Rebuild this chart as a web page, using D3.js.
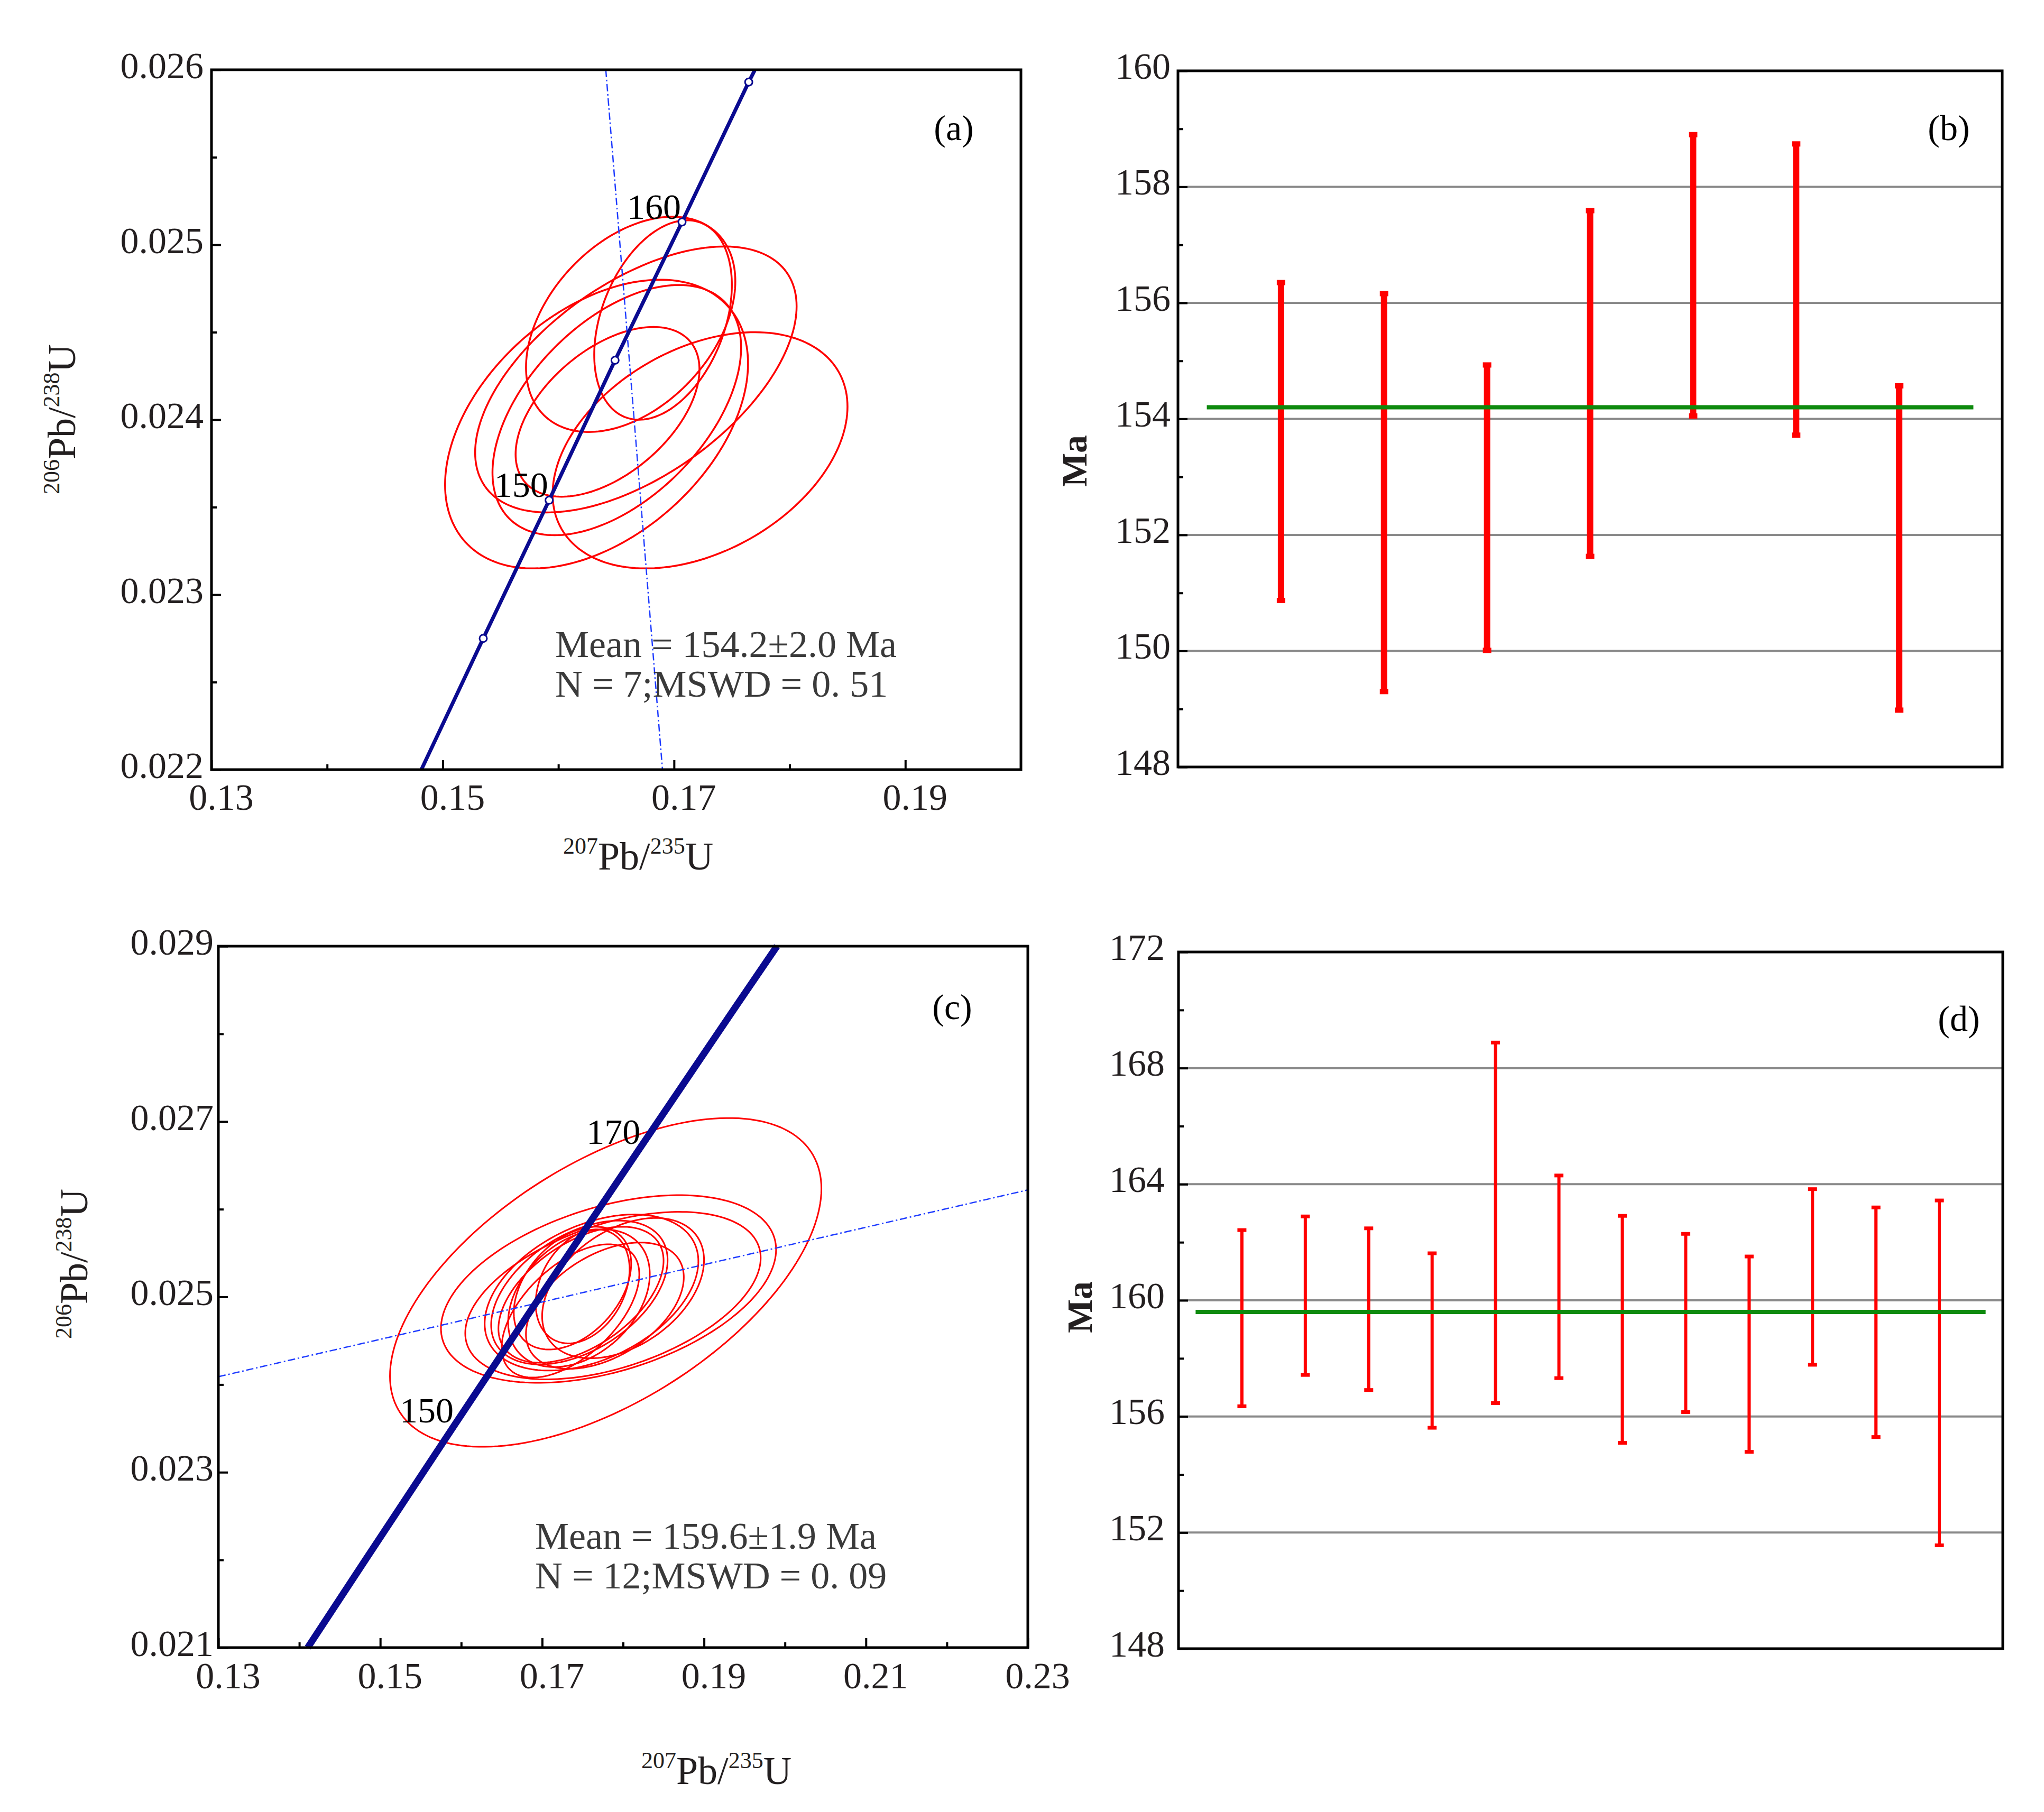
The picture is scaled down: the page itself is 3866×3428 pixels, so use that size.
<!DOCTYPE html>
<html>
<head>
<meta charset="utf-8">
<script src="https://cdn.jsdelivr.net/npm/d3@7"></script>
<style>
  body { margin: 0; background: #fff; }
  text { font-family: "Liberation Serif", "DejaVu Serif", serif; }
</style>
</head>
<body>
<script>
// U-Pb concordia diagrams (a, c) and weighted mean age plots (b, d)

// ---- panel (a) data ----
const concordiaA = [[0.14815, 0.02200], [0.15350, 0.02275], [0.15920, 0.02354], [0.16490, 0.02434],
                    [0.17069, 0.02513], [0.17646, 0.02593], [0.17700, 0.02600]];
const ageMarksA = [[0.15350, 0.02275], [0.15920, 0.02354], [0.16490, 0.02434], [0.17069, 0.02513], [0.17646, 0.02593]];
const ageLabelsA = [{ t: '150', x: 0.15920, y: 0.02354 }, { t: '160', x: 0.17069, y: 0.02513 }];
const discordiaA = [[0.1641, 0.0260], [0.1690, 0.0220]];
// ellipses: [xmin, xmax, ymin, ymax, correlation]
const ellipsesA = [
  [0.1502, 0.1764, 0.02315, 0.02480, 0.42],
  [0.1595, 0.1850, 0.02315, 0.02450, 0.37],
  [0.1572, 0.1753, 0.02393, 0.02516, 0.40],
  [0.1631, 0.1750, 0.02400, 0.02514, 0.35],
  [0.1528, 0.1806, 0.02347, 0.02499, 0.55],
  [0.1543, 0.1758, 0.02334, 0.02477, 0.50],
  [0.1563, 0.1722, 0.02356, 0.02453, 0.50]
];

// ---- panel (c) data ----
const concordiaC = [[0.14104, 0.02100], [0.14784, 0.021955], [0.15920, 0.023542], [0.17069, 0.025134],
                    [0.18227, 0.026722], [0.19396, 0.028316], [0.19901, 0.02900]];
const ageLabelsC = [{ t: '150', x: 0.15920, y: 0.023542 }, { t: '170', x: 0.18227, y: 0.026722 }];
const discordiaC = [[0.13, 0.02409], [0.23, 0.02622]];
const ellipsesC = [
  [0.1512, 0.2045, 0.02329, 0.02704, 0.57],
  [0.1575, 0.1989, 0.02402, 0.02616, 0.42],
  [0.1605, 0.1970, 0.02406, 0.02597, 0.45],
  [0.1629, 0.1893, 0.02416, 0.02594, 0.40],
  [0.1637, 0.1855, 0.02423, 0.02587, 0.45],
  [0.1646, 0.1850, 0.02425, 0.02580, 0.50],
  [0.1658, 0.1833, 0.02420, 0.02577, 0.35],
  [0.1665, 0.1810, 0.02440, 0.02580, 0.40],
  [0.1692, 0.1808, 0.02447, 0.02577, 0.30],
  [0.1680, 0.1875, 0.02418, 0.02562, 0.45],
  [0.1650, 0.1820, 0.02408, 0.02560, 0.55],
  [0.1700, 0.1900, 0.02430, 0.02590, 0.40]
];

// ---- panel (b) data ----
const lowB  = [150.87, 149.30, 150.01, 151.63, 154.05, 153.72, 148.98];
const highB = [156.35, 156.16, 154.93, 157.59, 158.90, 158.74, 154.57];
const meanB = 154.2;
const meanSpanB = [0.28, 7.72];

// ---- panel (d) data ----
const lowD  = [156.35, 157.43, 156.91, 155.61, 156.46, 157.32, 155.09, 156.15, 154.78, 157.78, 155.29, 151.56];
const highD = [162.42, 162.89, 162.48, 161.62, 168.88, 164.30, 162.91, 162.29, 161.51, 163.83, 163.20, 163.44];
const meanD = 159.6;
const meanSpanD = [0.27, 12.73];

const W = 3866, H = 3428;
const svg = d3.select('body').append('svg').attr('width', W).attr('height', H);
const TXT = '#231f20';

function ellipsePoints(e) {
  const [x0, x1, y0, y1, r] = e;
  const cx = (x0 + x1) / 2, sx = (x1 - x0) / 2, cy = (y0 + y1) / 2, sy = (y1 - y0) / 2;
  const q = Math.sqrt(1 - r * r);
  return d3.range(0, 2 * Math.PI, Math.PI / 90).map(t =>
    [cx + sx * Math.cos(t), cy + sy * (r * Math.cos(t) + q * Math.sin(t))]);
}

function styleAxis(g, fs) {
  g.select('.domain').remove();
  g.selectAll('line').attr('stroke', '#000').attr('stroke-width', 4);
  g.selectAll('text').attr('font-size', fs).attr('fill', TXT)
    .attr('font-family', '"Liberation Serif", serif');
}

function isoTitle(g, x, y, sup1, sup2, rotate) {
  const t = g.append('text').attr('text-anchor', 'middle').attr('fill', TXT)
    .attr('transform', `translate(${x},${y})` + (rotate ? ' rotate(-90)' : ''));
  t.append('tspan').attr('font-size', 44).attr('dy', -30).text(sup1);
  t.append('tspan').attr('font-size', 74).attr('dy', 30).text('Pb/');
  t.append('tspan').attr('font-size', 44).attr('dy', -30).text(sup2);
  t.append('tspan').attr('font-size', 74).attr('dy', 30).text('U');
}

function concordiaPanel(o) {
  const x = d3.scaleLinear().domain(o.xdom).range([o.x0, o.x1]);
  const y = d3.scaleLinear().domain(o.ydom).range([o.y1, o.y0]);
  const g = svg.append('g');
  const line = d3.line().x(d => x(d[0])).y(d => y(d[1]));

  // ellipses
  g.selectAll('path.ell').data(o.ellipses).join('path')
    .attr('d', e => line.curve(d3.curveLinearClosed)(ellipsePoints(e)))
    .attr('fill', 'none').attr('stroke', '#ff0000').attr('stroke-width', o.ellW);
  line.curve(d3.curveLinear);

  // discordia
  g.append('path').attr('d', line(o.discordia)).attr('fill', 'none')
    .attr('stroke', '#1f3cff').attr('stroke-width', 2.5).attr('stroke-dasharray', '14,5,3,5');

  // concordia
  g.append('path').attr('d', line(o.concordia)).attr('fill', 'none')
    .attr('stroke', '#0a0a90').attr('stroke-width', o.concW);
  if (o.marks) {
    g.selectAll('circle.m').data(o.marks).join('circle')
      .attr('cx', d => x(d[0])).attr('cy', d => y(d[1])).attr('r', 7)
      .attr('fill', '#fff').attr('stroke', '#0a0a90').attr('stroke-width', 3);
  }
  g.selectAll('text.age').data(o.ageLabels).join('text')
    .attr('x', d => x(d.x) - 2).attr('y', d => y(d.y) + o.ageDy)
    .attr('text-anchor', 'end').attr('font-size', 68).attr('fill', '#000').text(d => d.t);

  // axes with inward ticks
  const ax = g.append('g').attr('transform', `translate(0,${o.y1})`)
    .call(d3.axisBottom(x).tickValues(o.xMajor).tickSize(-18).tickPadding(o.xPad).tickFormat(d3.format('.2f')));
  styleAxis(ax, 70);
  ax.selectAll('text').attr('dx', 18);
  const axm = g.append('g').attr('transform', `translate(0,${o.y1})`)
    .call(d3.axisBottom(x).tickValues(o.xMinor).tickSize(-10).tickFormat(''));
  styleAxis(axm, 70);
  const ay = g.append('g').attr('transform', `translate(${o.x0},0)`)
    .call(d3.axisLeft(y).tickValues(o.yMajor).tickSize(-18).tickPadding(o.yPad).tickFormat(d3.format('.3f')));
  styleAxis(ay, 70);
  ay.selectAll('text').attr('dy', '0.22em');
  const aym = g.append('g').attr('transform', `translate(${o.x0},0)`)
    .call(d3.axisLeft(y).tickValues(o.yMinor).tickSize(-10).tickFormat(''));
  styleAxis(aym, 70);

  g.append('rect').attr('x', o.x0).attr('y', o.y0).attr('width', o.x1 - o.x0).attr('height', o.y1 - o.y0)
    .attr('fill', 'none').attr('stroke', '#000').attr('stroke-width', 5);

  g.append('text').attr('x', o.tag[0]).attr('y', o.tag[1]).attr('text-anchor', 'middle')
    .attr('font-size', 68).attr('fill', '#000').text(o.tagText);

  const m = g.append('text').attr('font-size', 72).attr('fill', '#3a3a3a');
  m.append('tspan').attr('x', o.meanXY[0]).attr('y', o.meanXY[1]).text(o.meanText[0]);
  m.append('tspan').attr('x', o.meanXY[0]).attr('dy', 75).text(o.meanText[1]);

  isoTitle(g, o.xTitle[0], o.xTitle[1], '207', '235', false);
  isoTitle(g, o.yTitle[0], o.yTitle[1], '206', '238', true);
}

function agePanel(o) {
  const x = d3.scaleLinear().domain([0, o.low.length + 1]).range([o.x0, o.x1]);
  const y = d3.scaleLinear().domain(o.ydom).range([o.y1, o.y0]);
  const g = svg.append('g');

  g.selectAll('line.grid').data(o.grid).join('line')
    .attr('x1', o.x0).attr('x2', o.x1).attr('y1', d => y(d)).attr('y2', d => y(d))
    .attr('stroke', '#8a8a8a').attr('stroke-width', 4);

  const idx = d3.range(o.low.length);
  g.selectAll('line.bar').data(idx).join('line')
    .attr('x1', i => x(i + 1)).attr('x2', i => x(i + 1))
    .attr('y1', i => y(o.low[i])).attr('y2', i => y(o.high[i]))
    .attr('stroke', '#ff0000').attr('stroke-width', o.barW);
  const caps = idx.flatMap(i => [[i + 1, o.low[i]], [i + 1, o.high[i]]]);
  g.selectAll('rect.cap').data(caps).join('rect')
    .attr('x', d => x(d[0]) - o.capW / 2).attr('y', d => y(d[1]) - o.capH / 2)
    .attr('width', o.capW).attr('height', o.capH).attr('fill', '#ff0000');

  g.append('line').attr('x1', x(o.span[0])).attr('x2', x(o.span[1]))
    .attr('y1', y(o.mean)).attr('y2', y(o.mean))
    .attr('stroke', '#0e8a0e').attr('stroke-width', 8);

  const ay = g.append('g').attr('transform', `translate(${o.x0},0)`)
    .call(d3.axisLeft(y).tickValues(o.yMajor).tickSize(-18).tickPadding(o.yPad).tickFormat(d3.format('d')));
  styleAxis(ay, 70);
  ay.selectAll('text').attr('dy', '0.2em');
  const aym = g.append('g').attr('transform', `translate(${o.x0},0)`)
    .call(d3.axisLeft(y).tickValues(o.yMinor).tickSize(-10).tickFormat(''));
  styleAxis(aym, 70);

  g.append('rect').attr('x', o.x0).attr('y', o.y0).attr('width', o.x1 - o.x0).attr('height', o.y1 - o.y0)
    .attr('fill', 'none').attr('stroke', '#000').attr('stroke-width', 5);

  g.append('text').attr('x', o.tag[0]).attr('y', o.tag[1]).attr('text-anchor', 'middle')
    .attr('font-size', 68).attr('fill', '#000').text(o.tagText);

  g.append('text').attr('transform', `translate(${o.maXY[0]},${o.maXY[1]}) rotate(-90)`)
    .attr('text-anchor', 'middle').attr('font-size', 68).attr('font-weight', 'bold')
    .attr('fill', TXT).text('Ma');
}

concordiaPanel({
  x0: 400, x1: 1931, y0: 132, y1: 1456,
  xdom: [0.13, 0.20], ydom: [0.022, 0.026],
  xMajor: [0.13, 0.15, 0.17, 0.19], xMinor: [0.14, 0.16, 0.18],
  yMajor: [0.022, 0.023, 0.024, 0.025, 0.026], yMinor: [0.0225, 0.0235, 0.0245, 0.0255],
  xPad: 26, yPad: 15,
  ellipses: ellipsesA, ellW: 3.5, discordia: discordiaA,
  concordia: concordiaA, concW: 7, marks: ageMarksA, ageLabels: ageLabelsA, ageDy: -6,
  tag: [1804, 265], tagText: '(a)',
  meanXY: [1050, 1243], meanText: ['Mean = 154.2\u00b12.0 Ma', 'N = 7;MSWD = 0. 51'],
  xTitle: [1207, 1645], yTitle: [142, 793]
});

concordiaPanel({
  x0: 413, x1: 1944, y0: 1790, y1: 3117,
  xdom: [0.13, 0.23], ydom: [0.021, 0.029],
  xMajor: [0.13, 0.15, 0.17, 0.19, 0.21, 0.23], xMinor: [0.14, 0.16, 0.18, 0.20, 0.22],
  yMajor: [0.021, 0.023, 0.025, 0.027, 0.029], yMinor: [0.022, 0.024, 0.026, 0.028],
  xPad: 27, yPad: 9,
  ellipses: ellipsesC, ellW: 3, discordia: discordiaC,
  concordia: concordiaC, concW: 13, marks: null, ageLabels: ageLabelsC, ageDy: -4,
  tag: [1801, 1928], tagText: '(c)',
  meanXY: [1012, 2930], meanText: ['Mean = 159.6\u00b11.9 Ma', 'N = 12;MSWD = 0. 09'],
  xTitle: [1355, 3375], yTitle: [165, 2391]
});

agePanel({
  x0: 2228, x1: 3787, y0: 134, y1: 1451,
  ydom: [148, 160], yMajor: d3.range(148, 161, 2), yMinor: d3.range(149, 160, 2),
  grid: [150, 152, 154, 156, 158], yPad: 14,
  low: lowB, high: highB, mean: meanB, span: meanSpanB,
  barW: 12, capW: 16, capH: 10,
  tag: [3686, 265], tagText: '(b)', maXY: [2055, 872]
});

agePanel({
  x0: 2229, x1: 3788, y0: 1801, y1: 3119,
  ydom: [148, 172], yMajor: d3.range(148, 173, 4), yMinor: d3.range(150, 171, 4),
  grid: [152, 156, 160, 164, 168], yPad: 26,
  low: lowD, high: highD, mean: meanD, span: meanSpanD,
  barW: 6, capW: 17, capH: 7,
  tag: [3705, 1950], tagText: '(d)', maXY: [2065, 2473]
});
</script>
</body>
</html>
